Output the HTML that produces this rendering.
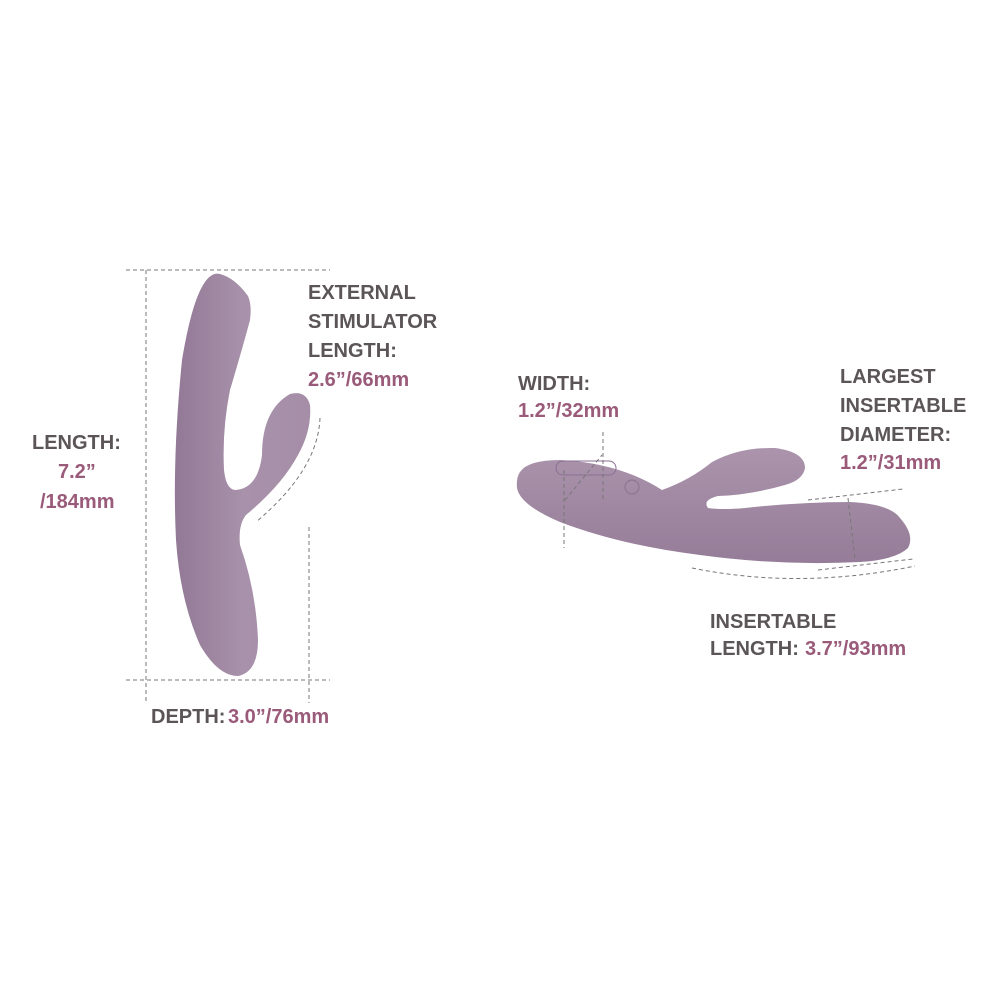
<!DOCTYPE html>
<html><head><meta charset="utf-8"><style>
body{margin:0;width:1000px;height:1000px;background:#fff;overflow:hidden}
svg{display:block}
text{font-family:"Liberation Sans",sans-serif;font-weight:bold;font-size:20px}
.g{fill:#5b5558}.p{fill:#9a5a79}
.d{stroke:#777;stroke-width:1;stroke-dasharray:4 3;fill:none}
</style></head><body>
<svg width="1000" height="1000" viewBox="0 0 1000 1000">
<defs>
<linearGradient id="lg" x1="0" x2="1" y1="0" y2="0"><stop offset="0" stop-color="#927996"/><stop offset="0.5" stop-color="#a891aa"/><stop offset="1" stop-color="#a68ea8"/></linearGradient>
<linearGradient id="rg" x1="0" x2="0" y1="0" y2="1"><stop offset="0" stop-color="#ab94ac"/><stop offset="1" stop-color="#957c98"/></linearGradient>
</defs>
<line class="d" x1="126" y1="270" x2="330" y2="270"/>
<line class="d" x1="126" y1="680" x2="330" y2="680"/>
<line class="d" x1="146" y1="270" x2="146" y2="703"/>
<line class="d" x1="309" y1="527" x2="309" y2="703"/>
<path class="d" d="M320 418 Q318 470 256 522"/>
<path fill="url(#lg)" d="M220 274 Q235 278 248 296 Q252 305 250 320 Q242 350 230 390 Q222 430 224 470 Q226 490 236 490 Q258 488 262 455 Q262 410 290 394 Q306 390 310 405 Q312 430 298 455 Q282 485 246 515 Q238 525 240 545 Q256 590 258 640 Q258 672 238 676 Q218 676 200 645 Q180 600 176 540 Q172 460 182 360 Q192 300 205 282 Q212 272 220 274Z"/>
<path fill="url(#rg)" d="M520 472 Q528 460 560 460 Q620 463 662 490 Q690 480 712 462 Q740 447 775 448 Q805 452 805 468 Q803 480 785 485 Q750 495 718 496 Q702 500 708 508 Q722 510 745 508 Q800 502 850 502 Q890 504 900 518 Q915 535 908 548 Q895 560 860 562 Q780 566 700 555 Q620 545 560 522 Q520 505 517 488 Q516 478 520 472Z"/>
<rect x="556" y="461" width="60" height="14" rx="7" fill="none" stroke="#8a7090" stroke-width="1"/>
<circle cx="632" cy="487" r="7" fill="none" stroke="#8a7090" stroke-width="1"/>
<line class="d" x1="603" y1="432" x2="603" y2="500"/>
<line class="d" x1="564" y1="470" x2="564" y2="548"/>
<line class="d" x1="565" y1="500" x2="602" y2="455"/>
<path class="d" d="M808 500 L903 489"/>
<path class="d" d="M848 498 L855 560"/>
<path class="d" d="M818 570 L913 559"/>
<path class="d" d="M692 568 Q800 590 915 566"/>
<text class="g" x="308" y="299">EXTERNAL</text>
<text class="g" x="308" y="328">STIMULATOR</text>
<text class="g" x="308" y="357">LENGTH:</text>
<text class="p" x="308" y="386">2.6”/66mm</text>
<text class="g" x="32" y="449">LENGTH:</text>
<text class="p" x="58" y="478">7.2”</text>
<text class="p" x="40" y="508">/184mm</text>
<text class="g" x="151" y="723">DEPTH:</text>
<text class="p" x="228" y="723">3.0”/76mm</text>
<text class="g" x="518" y="390">WIDTH:</text>
<text class="p" x="518" y="417">1.2”/32mm</text>
<text class="g" x="840" y="383">LARGEST</text>
<text class="g" x="840" y="412">INSERTABLE</text>
<text class="g" x="840" y="441">DIAMETER:</text>
<text class="p" x="840" y="469">1.2”/31mm</text>
<text class="g" x="710" y="628">INSERTABLE</text>
<text class="g" x="710" y="655">LENGTH:</text>
<text class="p" x="805" y="655">3.7”/93mm</text>
</svg>
</body></html>
